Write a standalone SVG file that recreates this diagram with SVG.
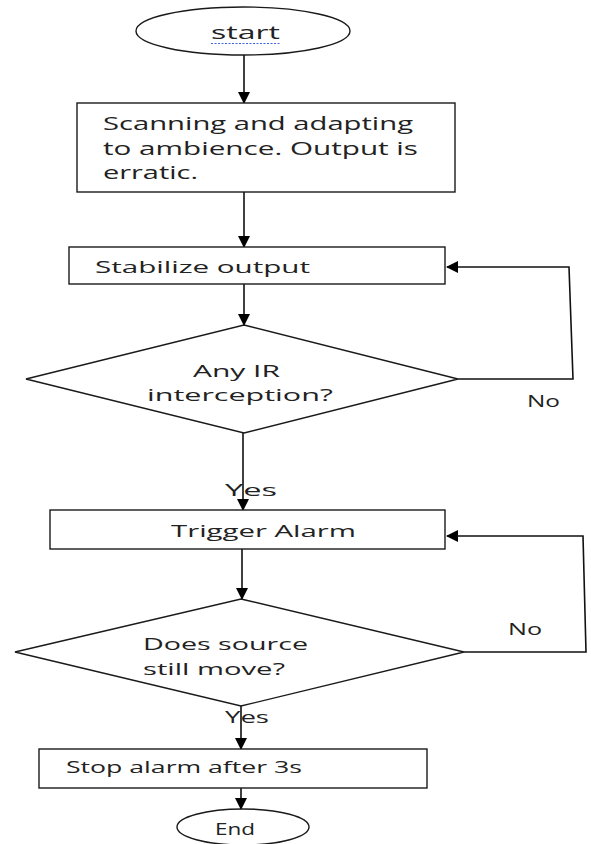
<svg xmlns="http://www.w3.org/2000/svg" width="591" height="844" viewBox="0 0 591 844">
<defs>
<marker id="ah" markerUnits="userSpaceOnUse" markerWidth="12" markerHeight="12" viewBox="0 0 12 12" refX="11" refY="6" orient="auto">
<path d="M0,0 L12,6 L0,12 Z" fill="#000"/>
</marker>
</defs>
<style>
.shape{fill:#fff;stroke:#1a1a1a;stroke-width:1.4}
.t{font-family:"Open Sans","Liberation Sans",sans-serif;fill:#222;font-size:16px}
.big{font-size:18px}
.c{fill:none;stroke:#111;stroke-width:1.6}
</style>
<rect width="591" height="844" fill="#fff"/>
<g id="connectors">
<line class="c" x1="244" y1="55" x2="244" y2="103" marker-end="url(#ah)"/>
<line class="c" x1="244" y1="192" x2="244" y2="247" marker-end="url(#ah)"/>
<line class="c" x1="244" y1="284" x2="244" y2="325" marker-end="url(#ah)"/>
<line class="c" x1="243" y1="433" x2="243" y2="510" marker-end="url(#ah)"/>
<line class="c" x1="242" y1="549" x2="242" y2="599" marker-end="url(#ah)"/>
<line class="c" x1="241" y1="706" x2="241" y2="749" marker-end="url(#ah)"/>
<line class="c" x1="241" y1="788" x2="241" y2="809" marker-end="url(#ah)"/>
<polyline class="c" points="458,379 573,379 569,267 447,267" marker-end="url(#ah)"/>
<polyline class="c" points="464,652 586,652 583,536 447,536" marker-end="url(#ah)"/>
<text class="t" x="527" y="407" textLength="33" lengthAdjust="spacingAndGlyphs">No</text>
<text class="t" x="225" y="496" textLength="52" lengthAdjust="spacingAndGlyphs">Yes</text>
<text class="t" x="508" y="635" textLength="34" lengthAdjust="spacingAndGlyphs">No</text>
<text class="t" x="225" y="723" textLength="44" lengthAdjust="spacingAndGlyphs">Yes</text>
</g>
<g id="start">
<ellipse class="shape" cx="243" cy="31" rx="107" ry="24"/>
<text class="t big" x="211" y="39" textLength="69" lengthAdjust="spacingAndGlyphs">start</text>
<line x1="211" y1="43.5" x2="280" y2="43.5" stroke="#4060e0" stroke-width="1" stroke-dasharray="2,1.5"/>
</g>
<g id="scan">
<rect class="shape" x="77" y="103" width="378" height="89"/>
<text class="t big" x="103" y="130" textLength="310" lengthAdjust="spacingAndGlyphs">Scanning and adapting</text>
<text class="t big" x="103" y="155" textLength="315" lengthAdjust="spacingAndGlyphs">to ambience. Output is</text>
<text class="t big" x="103" y="179" textLength="95" lengthAdjust="spacingAndGlyphs">erratic.</text>
</g>
<g id="stabilize">
<rect class="shape" x="69" y="247" width="376" height="37"/>
<text class="t" x="95" y="273" textLength="215" lengthAdjust="spacingAndGlyphs">Stabilize output</text>
</g>
<g id="decision1">
<polygon class="shape" points="244,325 458,379 244,433 26,379"/>
<text class="t" x="193" y="377" textLength="87" lengthAdjust="spacingAndGlyphs">Any IR</text>
<text class="t" x="147" y="401" textLength="186" lengthAdjust="spacingAndGlyphs">interception?</text>
</g>
<g id="trigger">
<rect class="shape" x="50" y="510" width="395" height="39"/>
<text class="t" x="171" y="537" textLength="185" lengthAdjust="spacingAndGlyphs">Trigger Alarm</text>
</g>
<g id="decision2">
<polygon class="shape" points="241,599 464,652 241,706 15,652"/>
<text class="t" x="143" y="650" textLength="165" lengthAdjust="spacingAndGlyphs">Does source</text>
<text class="t" x="143" y="675" textLength="142" lengthAdjust="spacingAndGlyphs">still move?</text>
</g>
<g id="stop">
<rect class="shape" x="39" y="749" width="388" height="39"/>
<text class="t" x="66" y="773" textLength="236" lengthAdjust="spacingAndGlyphs">Stop alarm after 3s</text>
</g>
<g id="end">
<ellipse class="shape" cx="243" cy="827" rx="66" ry="18"/>
<text class="t" x="215" y="835" textLength="40" lengthAdjust="spacingAndGlyphs">End</text>
</g>
</svg>
